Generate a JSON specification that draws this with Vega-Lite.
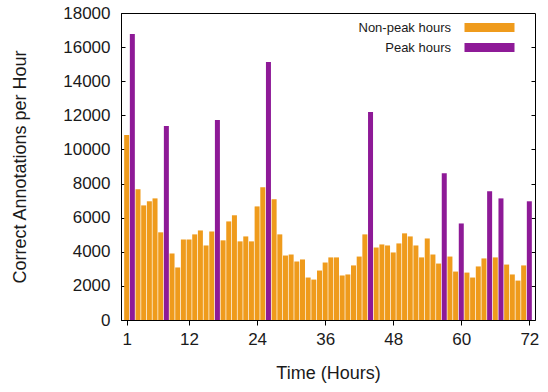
{
  "$schema": "https://vega.github.io/schema/vega-lite/v6.json",
  "width": 414,
  "height": 307,
  "autosize": "none",
  "padding": {"left": 121, "top": 13, "right": 13, "bottom": 72},
  "background": "white",
  "config": {
    "font": "Liberation Sans",
    "view": {"stroke": "black", "strokeWidth": 1},
    "axis": {"labelFont": "Liberation Sans", "titleFont": "Liberation Sans", "labelColor": "#1a1a1a", "titleColor": "#1a1a1a", "titleFontWeight": "normal", "domainColor": "black", "tickColor": "black", "grid": false}
  },
  "data": {
    "values": [
      {"hour": 1, "value": 10850, "type": "Non-peak hours"},
      {"hour": 2, "value": 16770, "type": "Peak hours"},
      {"hour": 3, "value": 7660, "type": "Non-peak hours"},
      {"hour": 4, "value": 6720, "type": "Non-peak hours"},
      {"hour": 5, "value": 6960, "type": "Non-peak hours"},
      {"hour": 6, "value": 7130, "type": "Non-peak hours"},
      {"hour": 7, "value": 5140, "type": "Non-peak hours"},
      {"hour": 8, "value": 11370, "type": "Peak hours"},
      {"hour": 9, "value": 3900, "type": "Non-peak hours"},
      {"hour": 10, "value": 3080, "type": "Non-peak hours"},
      {"hour": 11, "value": 4720, "type": "Non-peak hours"},
      {"hour": 12, "value": 4720, "type": "Non-peak hours"},
      {"hour": 13, "value": 5020, "type": "Non-peak hours"},
      {"hour": 14, "value": 5250, "type": "Non-peak hours"},
      {"hour": 15, "value": 4370, "type": "Non-peak hours"},
      {"hour": 16, "value": 5190, "type": "Non-peak hours"},
      {"hour": 17, "value": 11730, "type": "Peak hours"},
      {"hour": 18, "value": 4670, "type": "Non-peak hours"},
      {"hour": 19, "value": 5780, "type": "Non-peak hours"},
      {"hour": 20, "value": 6140, "type": "Non-peak hours"},
      {"hour": 21, "value": 4610, "type": "Non-peak hours"},
      {"hour": 22, "value": 4900, "type": "Non-peak hours"},
      {"hour": 23, "value": 4610, "type": "Non-peak hours"},
      {"hour": 24, "value": 6660, "type": "Non-peak hours"},
      {"hour": 25, "value": 7780, "type": "Non-peak hours"},
      {"hour": 26, "value": 15130, "type": "Peak hours"},
      {"hour": 27, "value": 7080, "type": "Non-peak hours"},
      {"hour": 28, "value": 5020, "type": "Non-peak hours"},
      {"hour": 29, "value": 3780, "type": "Non-peak hours"},
      {"hour": 30, "value": 3840, "type": "Non-peak hours"},
      {"hour": 31, "value": 3430, "type": "Non-peak hours"},
      {"hour": 32, "value": 3550, "type": "Non-peak hours"},
      {"hour": 33, "value": 2490, "type": "Non-peak hours"},
      {"hour": 34, "value": 2370, "type": "Non-peak hours"},
      {"hour": 35, "value": 2900, "type": "Non-peak hours"},
      {"hour": 36, "value": 3370, "type": "Non-peak hours"},
      {"hour": 37, "value": 3670, "type": "Non-peak hours"},
      {"hour": 38, "value": 3670, "type": "Non-peak hours"},
      {"hour": 39, "value": 2610, "type": "Non-peak hours"},
      {"hour": 40, "value": 2670, "type": "Non-peak hours"},
      {"hour": 41, "value": 3200, "type": "Non-peak hours"},
      {"hour": 42, "value": 3720, "type": "Non-peak hours"},
      {"hour": 43, "value": 5020, "type": "Non-peak hours"},
      {"hour": 44, "value": 12200, "type": "Peak hours"},
      {"hour": 45, "value": 4250, "type": "Non-peak hours"},
      {"hour": 46, "value": 4430, "type": "Non-peak hours"},
      {"hour": 47, "value": 4370, "type": "Non-peak hours"},
      {"hour": 48, "value": 3960, "type": "Non-peak hours"},
      {"hour": 49, "value": 4490, "type": "Non-peak hours"},
      {"hour": 50, "value": 5080, "type": "Non-peak hours"},
      {"hour": 51, "value": 4900, "type": "Non-peak hours"},
      {"hour": 52, "value": 4370, "type": "Non-peak hours"},
      {"hour": 53, "value": 3670, "type": "Non-peak hours"},
      {"hour": 54, "value": 4780, "type": "Non-peak hours"},
      {"hour": 55, "value": 3840, "type": "Non-peak hours"},
      {"hour": 56, "value": 3310, "type": "Non-peak hours"},
      {"hour": 57, "value": 8600, "type": "Peak hours"},
      {"hour": 58, "value": 3720, "type": "Non-peak hours"},
      {"hour": 59, "value": 2840, "type": "Non-peak hours"},
      {"hour": 60, "value": 5660, "type": "Peak hours"},
      {"hour": 61, "value": 2780, "type": "Non-peak hours"},
      {"hour": 62, "value": 2490, "type": "Non-peak hours"},
      {"hour": 63, "value": 3140, "type": "Non-peak hours"},
      {"hour": 64, "value": 3610, "type": "Non-peak hours"},
      {"hour": 65, "value": 7550, "type": "Peak hours"},
      {"hour": 66, "value": 3670, "type": "Non-peak hours"},
      {"hour": 67, "value": 7130, "type": "Peak hours"},
      {"hour": 68, "value": 3250, "type": "Non-peak hours"},
      {"hour": 69, "value": 2670, "type": "Non-peak hours"},
      {"hour": 70, "value": 2310, "type": "Non-peak hours"},
      {"hour": 71, "value": 3200, "type": "Non-peak hours"},
      {"hour": 72, "value": 6960, "type": "Peak hours"}
    ]
  },
  "encoding": {
    "x": {
      "field": "hour", "type": "quantitative",
      "scale": {"domain": [0, 73], "nice": false, "zero": false, "padding": 0},
      "axis": {"values": [1, 12, 24, 36, 48, 60, 72], "title": "Time (Hours)", "labelFontSize": 17, "titleFontSize": 18, "tickSize": 5, "labelPadding": 6, "titlePadding": 17, "labelFlush": false}
    }
  },
  "layer": [
    {
      "mark": {"type": "bar", "size": 5, "cornerRadius": 0},
      "encoding": {
        "y": {
          "field": "value", "type": "quantitative",
          "scale": {"domain": [0, 18000], "nice": false},
          "axis": {"values": [0, 2000, 4000, 6000, 8000, 10000, 12000, 14000, 16000, 18000], "format": "d", "title": "Correct Annotations per Hour", "labelFontSize": 17, "titleFontSize": 18, "tickSize": -4, "labelPadding": 15, "titlePadding": 33}
        },
        "color": {
          "field": "type", "type": "nominal",
          "scale": {"domain": ["Non-peak hours", "Peak hours"], "range": ["#ef9b1c", "#8e1a97"]},
          "legend": {
            "title": null, "orient": "none", "legendX": 362, "legendY": 8, "padding": 0,
            "symbolType": "M-5,-0.9H5V0.9H-5Z", "symbolSize": 100, "symbolStrokeWidth": 0, "symbolOpacity": 1,
            "labelFontSize": 13, "labelAlign": "right", "labelOffset": -45, "labelColor": "#1a1a1a", "labelFont": "Liberation Sans",
            "rowPadding": 6, "labelLimit": 200
          }
        }
      }
    },
    {
      "mark": {"type": "bar", "size": 5, "opacity": 0},
      "encoding": {
        "y": {
          "field": "value", "type": "quantitative",
          "axis": {"orient": "right", "values": [2000, 4000, 6000, 8000, 10000, 12000, 14000, 16000], "labels": false, "title": null, "tickSize": -4, "domain": false}
        }
      }
    }
  ],
  "resolve": {"axis": {"y": "independent"}}
}
